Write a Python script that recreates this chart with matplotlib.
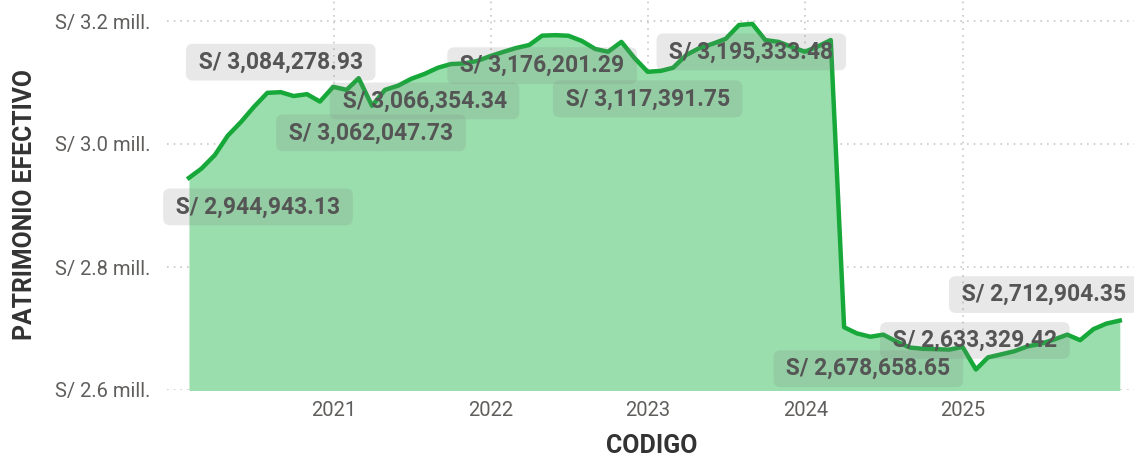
import numpy as np
import pandas as pd
import matplotlib
matplotlib.use('Agg')
import matplotlib.pyplot as plt
import matplotlib.dates as mdates
from matplotlib.ticker import FixedLocator, FuncFormatter

plt.rcParams['font.family'] = ['Roboto', 'DejaVu Sans']

# datos mensuales (cierre de mes), enero 2020 - diciembre 2025
fechas = pd.date_range('2020-01-31', periods=72, freq='ME')
patrimonio = [
    2944943.13, 2960000, 2982000, 3013500, 3036000, 3060500, 3083200, 3084278.93,
    3078000, 3081000, 3069000, 3093000, 3088000, 3107000, 3062047.73, 3088000,
    3095000, 3106000, 3114000, 3124000, 3130000, 3131000, 3135000, 3143000,
    3150000, 3156000, 3161000, 3176201.29, 3177000, 3176000, 3167600, 3154600,
    3150000, 3166000, 3140000, 3117391.75, 3119000, 3124000, 3145000, 3156000,
    3163000, 3171000, 3193500, 3195333.48, 3169000, 3166000, 3158000, 3150000,
    3159000, 3169000, 2702000, 2692000, 2686600, 2690000, 2678658.65, 2669000,
    2667000, 2666400, 2665600, 2670000, 2633329.42, 2653000, 2658000, 2663000,
    2671000, 2675000, 2682000, 2690000, 2681000, 2699000, 2708000, 2712904.35,
]

# etiquetas de datos que muestra el visual
idx_etiquetas = [0, 7, 14, 18, 27, 35, 43, 52, 60, 71]
txt_etiquetas = ['S/ 2,944,943.13', 'S/ 3,084,278.93', 'S/ 3,062,047.73',
                 'S/ 3,066,354.34', 'S/ 3,176,201.29', 'S/ 3,117,391.75',
                 'S/ 3,195,333.48', 'S/ 2,678,658.65', 'S/ 2,633,329.42',
                 'S/ 2,712,904.35']
# desplazamiento de cada etiqueta respecto a su punto (pixeles)
desp_etiquetas = [(69, -29), (0, 30), (-1, -27), (0, -27), (0, -30),
                  (0, -27), (-1, -28), (-2, -32), (-1, 29), (-76, 26)]

y_ticks = [2.6e6, 2.8e6, 3.0e6, 3.2e6]
x_ticks = pd.to_datetime(['2021-01-01', '2022-01-01', '2023-01-01',
                          '2024-01-01', '2025-01-01'])

verde = '#17A83A'
relleno = '#99DEAC'
gris_txt = '#605E5C'

fig = plt.figure(figsize=(11.34, 4.59), dpi=100)
ax = fig.add_axes([167 / 1134, 69 / 459, 967 / 1134, 390 / 459])

ax.fill_between(fechas, patrimonio, 2.5e6, color=relleno, lw=0, zorder=1)
ax.plot(fechas, patrimonio, color=verde, lw=3.2, solid_joinstyle='round', zorder=3)

ax.set_xlim(fechas[0] - pd.Timedelta(days=51), fechas[-1] + pd.Timedelta(days=33))
ax.set_ylim(2.6e6, 3.2e6 + 21 * 0.2e6 / 123)

ax.yaxis.set_major_locator(FixedLocator(y_ticks))
ax.yaxis.set_major_formatter(FuncFormatter(lambda v, p: 'S/ %.1f mill.' % (v / 1e6)))
ax.set_xticks(x_ticks)
ax.xaxis.set_major_formatter(mdates.DateFormatter('%Y'))

ax.grid(True, color='#C8C8C8', linestyle=(0, (1, 3)), lw=1.2, zorder=0)
ax.set_axisbelow(True)
for s in ax.spines.values():
    s.set_visible(False)
ax.tick_params(axis='both', length=0, colors=gris_txt, labelsize=14.5)
ax.tick_params(axis='y', pad=12)
ax.tick_params(axis='x', pad=8)

for i, t, d in zip(idx_etiquetas, txt_etiquetas, desp_etiquetas):
    ax.annotate(' ' + t + ' ', (fechas[i], patrimonio[i]), xytext=d,
                textcoords='offset pixels', ha='center', va='center',
                fontsize=16.5, fontweight='bold', color='#555555', zorder=5,
                bbox=dict(boxstyle='round,pad=0.3,rounding_size=0.3',
                          fc=(0.5, 0.5, 0.5, 0.18), ec='none'))

fig.text(652 / 1134, 1 - 446 / 459, 'CODIGO', ha='center', va='center',
         fontsize=18, fontweight='bold', color='#333333')
fig.text(25 / 1134, 1 - 205 / 459, 'PATRIMONIO EFECTIVO', ha='center', va='center',
         rotation=90, fontsize=17.8, fontweight='bold', color='#333333')

fig.savefig('out.png', dpi=100)
